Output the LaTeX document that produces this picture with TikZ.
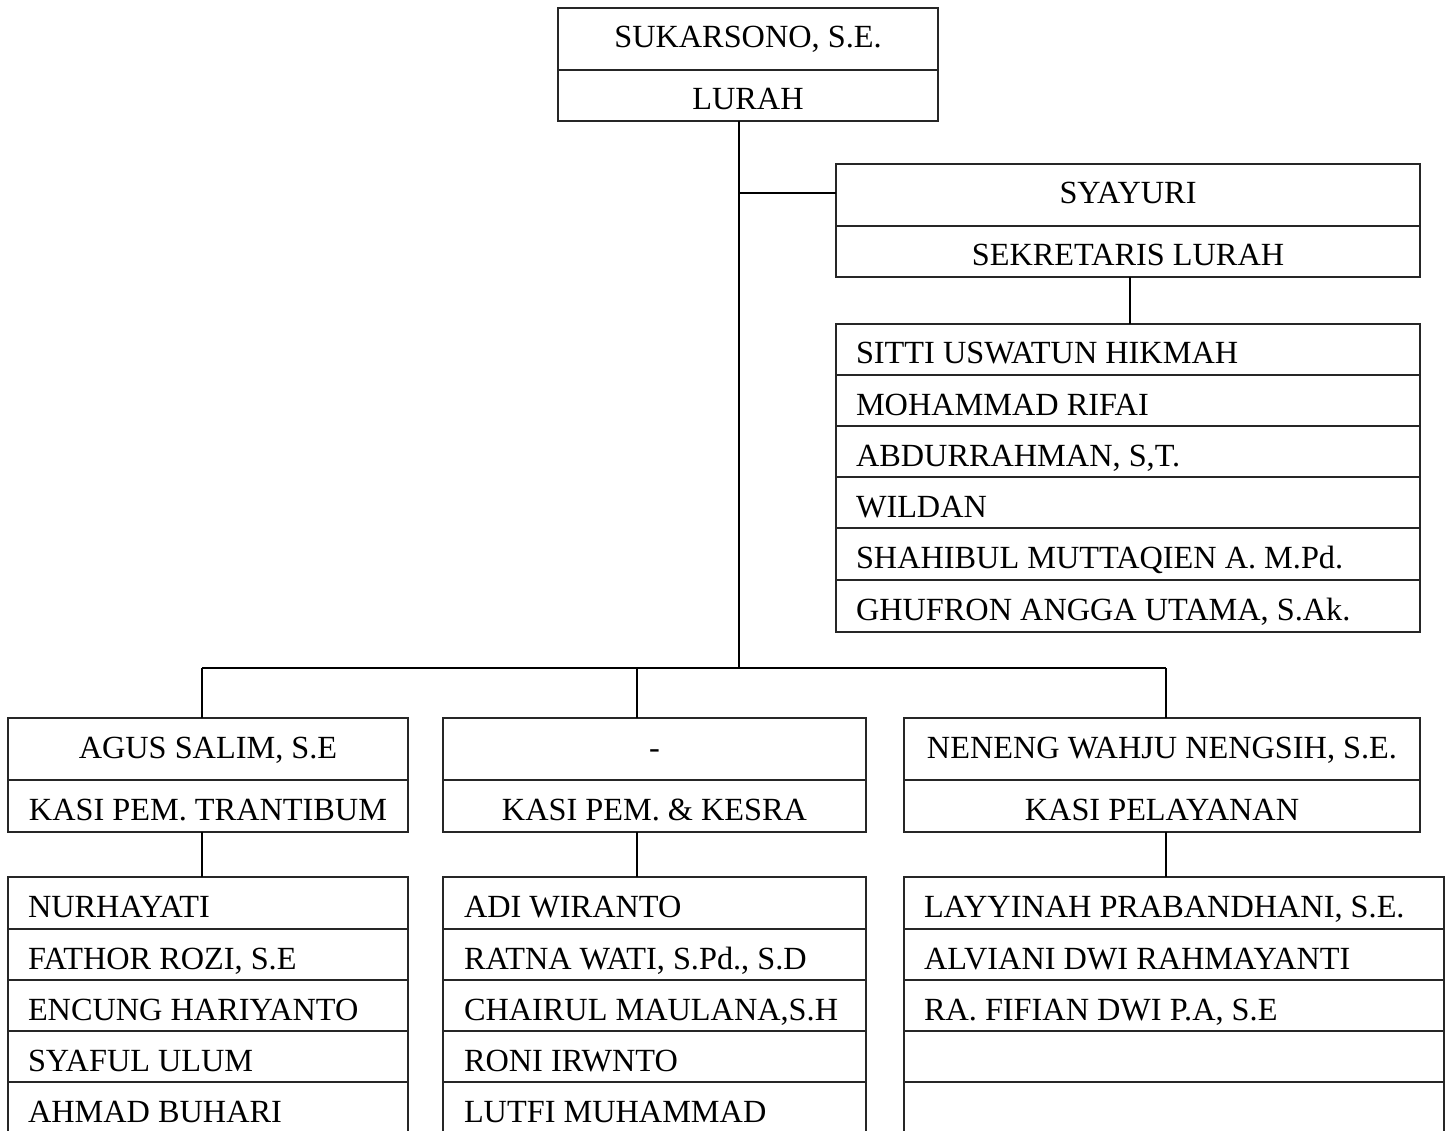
\documentclass[tikz,border=0pt]{standalone}
\usepackage{fontspec}
\setmainfont{Liberation Serif}
\begin{document}
\begin{tikzpicture}[x=1pt,y=-1pt,
  every node/.style={font=\fontsize{32.3pt}{37pt}\selectfont, inner sep=0pt, outer sep=0pt},
  frame/.style={draw=black!85, line width=1.3pt, anchor=north west, rectangle},
  div/.style={draw=black!85, line width=1.3pt},
  conn/.style={draw=black, line width=1.8pt},
  ctext/.style={anchor=base},
  ltext/.style={anchor=base west}]
\useasboundingbox (0,0) rectangle (1451,1131);
\clip (0,0) rectangle (1451,1131);
\fill[white] (0,0) rectangle (1451,1131);

% boxes
\node[frame, minimum width=380pt, minimum height=113pt] (lurah) at (558,8) {};
\node[frame, minimum width=584pt, minimum height=113pt] (sek) at (836,164) {};
\node[frame, minimum width=584pt, minimum height=308pt] (sekstaff) at (836,324) {};
\node[frame, minimum width=400pt, minimum height=114pt] (h1) at (8,718) {};
\node[frame, minimum width=423pt, minimum height=114pt] (h2) at (443,718) {};
\node[frame, minimum width=516pt, minimum height=114pt] (h3) at (904,718) {};
\node[frame, minimum width=400pt, minimum height=320pt] (s1) at (8,877) {};
\node[frame, minimum width=423pt, minimum height=320pt] (s2) at (443,877) {};
\node[frame, minimum width=540pt, minimum height=320pt] (s3) at (904,877) {};

% dividers
\draw[div] (lurah.west |- 0,70) -- (lurah.east |- 0,70);
\draw[div] (sek.west |- 0,226) -- (sek.east |- 0,226);
\foreach \yy in {375,426,477,528,580}
  \draw[div] (sekstaff.west |- 0,\yy) -- (sekstaff.east |- 0,\yy);
\foreach \hb in {h1,h2,h3}
  \draw[div] (\hb.west |- 0,780) -- (\hb.east |- 0,780);
\foreach \sb in {s1,s2,s3}
  \foreach \yy in {929,980,1031,1082}
    \draw[div] (\sb.west |- 0,\yy) -- (\sb.east |- 0,\yy);

% connectors
\coordinate (ttop) at (739,121);
\coordinate (br) at (739,193);
\coordinate (tbot) at (739,668);
\coordinate (b1) at (202,668);
\coordinate (b2) at (637,668);
\coordinate (b3) at (1166,668);
\draw[conn] (ttop) -- (tbot);
\draw[conn] (br) -- (br -| sek.west);
\draw[conn] (sek.south -| 1130,0) -- (sekstaff.north -| 1130,0);
\draw[conn] (b1) -- (b3);
\draw[conn] (b1) -- (b1 |- h1.north);
\draw[conn] (b2) -- (b2 |- h2.north);
\draw[conn] (b3) -- (b3 |- h3.north);
\draw[conn] (b1 |- h1.south) -- (b1 |- s1.north);
\draw[conn] (b2 |- h2.south) -- (b2 |- s2.north);
\draw[conn] (b3 |- h3.south) -- (b3 |- s3.north);

% texts
\node[ctext] (tl1) at (748,48) {SUKARSONO, S.E.};
\node[ctext] (tl2) at (748,110) {LURAH};
\node[ctext] (ts1) at (1128,204) {SYAYURI};
\node[ctext] (ts2) at (1128,266) {SEKRETARIS LURAH};
\node[ltext] (ss1) at (856,364) {SITTI USWATUN HIKMAH};
\node[ltext] (ss2) at (856,415) {MOHAMMAD RIFAI};
\node[ltext] (ss3) at (856,466) {ABDURRAHMAN, S,T.};
\node[ltext] (ss4) at (856,517) {WILDAN};
\node[ltext] (ss5) at (856,568) {SHAHIBUL MUTTAQIEN A. M.Pd.};
\node[ltext] (ss6) at (856,620) {GHUFRON ANGGA UTAMA, S.Ak.};

\node[ctext] (th1a) at (208,758) {AGUS SALIM, S.E};
\node[ctext] (th1b) at (208,820) {KASI PEM. TRANTIBUM};
\node[ctext] (th2a) at (654.5,758) {-};
\node[ctext] (th2b) at (654.5,820) {KASI PEM. \& KESRA};
\node[ctext] (th3a) at (1162,758) {NENENG WAHJU NENGSIH, S.E.};
\node[ctext] (th3b) at (1162,820) {KASI PELAYANAN};

\node[ltext] (a1) at (28,917) {NURHAYATI};
\node[ltext] (a2) at (28,969) {FATHOR ROZI, S.E};
\node[ltext] (a3) at (28,1020) {ENCUNG HARIYANTO};
\node[ltext] (a4) at (28,1071) {SYAFUL ULUM};
\node[ltext] (a5) at (28,1122) {AHMAD BUHARI};

\node[ltext] (m1) at (464,917) {ADI WIRANTO};
\node[ltext] (m2) at (464,969) {RATNA WATI, S.Pd., S.D};
\node[ltext] (m3) at (464,1020) {CHAIRUL MAULANA,S.H};
\node[ltext] (m4) at (464,1071) {RONI IRWNTO};
\node[ltext] (m5) at (464,1122) {LUTFI MUHAMMAD};

\node[ltext] (r1) at (924,917) {LAYYINAH PRABANDHANI, S.E.};
\node[ltext] (r2) at (924,969) {ALVIANI DWI RAHMAYANTI};
\node[ltext] (r3) at (924,1020) {RA. FIFIAN DWI P.A, S.E};
\end{tikzpicture}
\end{document}
